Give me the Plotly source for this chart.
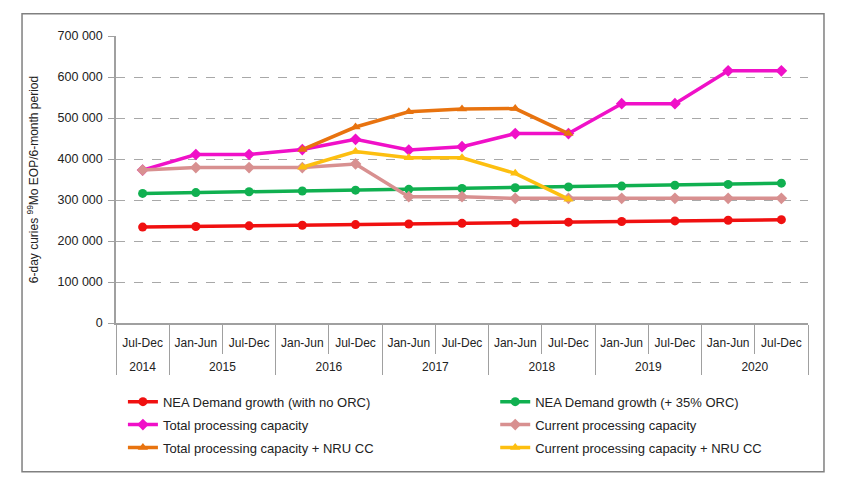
import plotly.graph_objects as go

years = ["2014", "2015", "2015", "2016", "2016", "2017", "2017",
         "2018", "2018", "2019", "2019", "2020", "2020"]
periods = ["Jul-Dec", "Jan-Jun", "Jul-Dec", "Jan-Jun", "Jul-Dec", "Jan-Jun", "Jul-Dec",
           "Jan-Jun", "Jul-Dec", "Jan-Jun", "Jul-Dec", "Jan-Jun", "Jul-Dec"]

nea_no_orc = [234000, 235500, 237000, 238500, 240000, 241500, 243000,
              244500, 246000, 247500, 249000, 250500, 252000]
nea_35_orc = [316000, 318000, 320000, 322000, 324000, 326000, 328000,
              330000, 332000, 334000, 336000, 338000, 341000]
total_cap = [373000, 411000, 411000, 423000, 448000, 422000, 430000,
             462000, 462000, 535000, 535000, 615000, 615000]
current_cap = [373000, 379000, 379000, 379000, 388000, 308000, 308000,
               304000, 304000, 304000, 304000, 304000, 304000]
total_nru = [None, None, None, 423000, 478000, 515000, 522000,
             523000, 462000, None, None, None, None]
current_nru = [None, None, None, 380000, 418000, 403000, 403000,
               365000, 302000, None, None, None, None]

series = [
    ("NEA Demand growth (with no ORC)", nea_no_orc, "#f01010", "circle", "legend"),
    ("NEA Demand growth (+ 35% ORC)", nea_35_orc, "#10b050", "circle", "legend2"),
    ("Total processing capacity", total_cap, "#f010c8", "diamond", "legend"),
    ("Current processing capacity", current_cap, "#d89090", "diamond", "legend2"),
    ("Total processing capacity + NRU CC", total_nru, "#e8730f", "triangle-up", "legend"),
    ("Current processing capacity + NRU CC", current_nru, "#fdbf10", "triangle-up", "legend2"),
]

# Inner-level labels: the first one gets a zero-width space so plotly keeps
# Jan-Jun before Jul-Dec inside every year; the blank second line spaces the rows.
ZW = "\u200b"
inner = [p + (ZW if i == 0 else "") + "<br>\u00a0" for i, p in enumerate(periods)]

fig = go.Figure()
for k, (name, vals, color, sym, leg) in enumerate(series):
    fig.add_trace(go.Scatter(
        x=[years, inner], y=vals, name=name, mode="lines+markers",
        line=dict(color=color, width=3.5),
        marker=dict(color=color, symbol=sym, size=9),
        connectgaps=False, legend=leg, legendgroup="g%d" % k,
    ))

fig.add_shape(type="rect", xref="paper", yref="paper",
              x0=-0.1358, x1=1.0231, y0=-0.518, y1=1.0779,
              line=dict(color="#808080", width=1.5), layer="below")

legend_style = dict(orientation="v", y=-0.222, yanchor="top", xanchor="left",
                    font=dict(size=13, color="#222"), itemwidth=30,
                    bgcolor="rgba(0,0,0,0)", tracegroupgap=3)

fig.update_layout(
    width=863, height=481,
    margin=dict(l=108, r=63, t=28, b=166, autoexpand=False),
    paper_bgcolor="white", plot_bgcolor="white",
    separators=". ",
    font=dict(family="Liberation Sans, Arial, sans-serif", size=12, color="#222"),
    showlegend=True,
    legend=dict(x=0.01, **legend_style),
    legend2=dict(x=0.548, **legend_style),
    yaxis=dict(range=[0, 700000], dtick=100000, tickformat=",d", automargin=False,
               showgrid=True, gridcolor="#a8a8a8", griddash="dash", gridwidth=1,
               zeroline=False, showline=True, linecolor="#a0a0a0", linewidth=1.5,
               ticks="outside", ticklen=6, tickcolor="#a0a0a0",
               tickfont=dict(size=12.5), ticklabelstandoff=3,
               title=dict(text="6-day curies <sup>99</sup>Mo EOP/6-month period",
                          font=dict(size=12), standoff=16)),
    xaxis=dict(type="multicategory", showline=True, linecolor="#a0a0a0", linewidth=1.5,
               automargin=False, tickangle=0, range=[-0.5, 12.5],
               ticks="outside", tickson="boundaries", ticklen=29, tickcolor="#a0a0a0",
               ticklabelstandoff=8,
               showdividers=True, dividercolor="#a0a0a0", dividerwidth=1,
               showgrid=False, tickfont=dict(size=12)),
)

fig.write_html("out.html")
